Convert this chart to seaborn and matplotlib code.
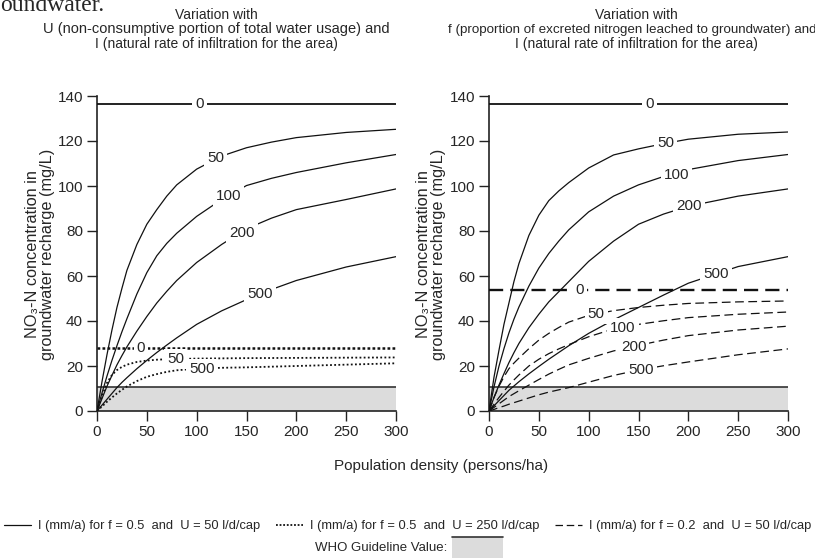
import matplotlib
matplotlib.use("Agg")
import matplotlib.pyplot as plt
from matplotlib.lines import Line2D
from matplotlib.patches import Rectangle
import pandas as pd
import seaborn as sns

# population density (persons/ha) at which the curves were read
density = [0, 5, 10, 15, 20, 25, 30, 40, 50, 60, 70, 80, 100, 125, 150, 175, 200, 250, 300]
density_flat = [0, 300]

# left panel: f = 0.5, U = 50 l/d/cap (solid)
left_solid_0 = [136.5, 136.5]
left_solid_50 = [0, 13, 25, 36, 46, 54.5, 62.5, 74, 83, 89.5, 95.5, 100.5, 107.5, 113.3, 117, 119.5, 121.5, 123.8, 125.2]
left_solid_100 = [0, 8, 15.5, 22.5, 29, 35.2, 41, 52, 61.5, 69, 74.5, 79, 86.5, 94, 100.2, 103.4, 106, 110.3, 114]
left_solid_200 = [0, 5.5, 11, 15.8, 20.5, 24.6, 28.5, 35.5, 42, 48, 53.2, 58, 66, 74, 81, 85.7, 89.5, 94, 98.7]
left_solid_500 = [0, 2.6, 5.2, 7.8, 10.4, 12.7, 14.8, 18.8, 22.5, 26, 29.3, 32.5, 38.5, 44.5, 49.5, 54, 58, 64, 68.6]

# left panel: f = 0.5, U = 250 l/d/cap (dotted)
left_dotted_0 = [28, 28]
left_dotted_50 = [0, 6.5, 12.5, 16, 18.2, 19.6, 20.6, 21.8, 22.4, 22.8, 23, 23.1, 23.3, 23.4, 23.5, 23.55, 23.6, 23.7, 23.8]
left_dotted_500 = [0, 2, 4.1, 6, 7.8, 9.4, 10.9, 13.3, 15.2, 16.4, 17.4, 18.1, 18.8, 19.2, 19.4, 19.7, 20, 20.6, 21.2]

# right panel: f = 0.5, U = 50 l/d/cap (solid)
right_solid_0 = [136.5, 136.5]
right_solid_50 = [0, 15, 27, 38.5, 48, 57.5, 65.5, 78, 87, 93.5, 97.8, 101.5, 108, 113.8, 116.5, 118.8, 120.8, 123, 124]
right_solid_100 = [0, 10.7, 19.9, 27.7, 34.7, 40.8, 46.2, 55.5, 63.5, 70, 75.5, 80.5, 88.5, 95.5, 100.5, 104.2, 107.3, 111.3, 114]
right_solid_200 = [0, 6, 11.5, 16.6, 21.5, 25.9, 30, 37, 43, 48.5, 53, 57.5, 66.5, 75.5, 83, 87.5, 91, 95.5, 98.7]
right_solid_500 = [0, 2.3, 4.6, 6.9, 9.2, 11.1, 13, 16.5, 19.8, 23, 26, 29, 34.5, 40.5, 46, 51.5, 56.8, 64.2, 68.6]

# right panel: f = 0.2, U = 50 l/d/cap (dashed)
right_dashed_0 = [53.7, 53.7]
right_dashed_50 = [0, 6, 11, 15.2, 18.8, 21.3, 23.5, 27.7, 31.5, 34.5, 37.1, 39.5, 42.5, 44.6, 46, 47, 47.8, 48.5, 48.9]
right_dashed_100 = [0, 3, 6, 8.8, 11.5, 13.8, 16, 20, 23, 25.5, 27.6, 29.5, 33, 36.5, 38.5, 40.1, 41.5, 43, 44]
right_dashed_200 = [0, 1.6, 3.2, 4.8, 6.4, 7.7, 9, 11.5, 14, 16.4, 18.5, 20.5, 23.4, 26.7, 29.2, 31.5, 33.5, 36, 37.7]
right_dashed_500 = [0, 0.7, 1.5, 2.2, 3, 3.7, 4.4, 5.8, 7.2, 8.4, 9.4, 10.4, 12.8, 15.8, 18.2, 20.1, 21.8, 25, 27.6]

who_value = 10.8

# where the I labels sit on each curve (density, concentration)
left_solid_labels = {"0": (103, 136.5), "50": (119, 112.3), "100": (132, 95.7), "200": (145.5, 79), "500": (163.5, 52)}
left_dotted_labels = {"0": (44, 28), "50": (79, 23), "500": (105, 18.7)}
right_solid_labels = {"0": (161, 136.5), "50": (177, 119), "100": (188, 105), "200": (200.5, 91), "500": (228, 61)}
right_dashed_labels = {"0": (91, 53.7), "50": (107.5, 43.1), "100": (134.5, 37), "200": (145, 28.5), "500": (152.5, 18.4)}

legend_texts = ["I (mm/a) for f = 0.5  and  U = 50 l/d/cap",
                "I (mm/a) for f = 0.5  and  U = 250 l/d/cap",
                "I (mm/a) for f = 0.2  and  U = 50 l/d/cap"]

sns.set_style("ticks")
plt.rcParams["font.family"] = ["Liberation Sans", "DejaVu Sans"]

fig = plt.figure(figsize=(8.15, 5.58), dpi=100)
ax_l = fig.add_axes([97 / 815, 1 - 411 / 558, 299 / 815, 315 / 558])
ax_r = fig.add_axes([489 / 815, 1 - 411 / 558, 299 / 815, 315 / 558])

series = [
    (ax_l, "solid", "0", density_flat, left_solid_0),
    (ax_l, "solid", "50", density, left_solid_50),
    (ax_l, "solid", "100", density, left_solid_100),
    (ax_l, "solid", "200", density, left_solid_200),
    (ax_l, "solid", "500", density, left_solid_500),
    (ax_l, "dotted", "0", density_flat, left_dotted_0),
    (ax_l, "dotted", "50", density, left_dotted_50),
    (ax_l, "dotted", "500", density, left_dotted_500),
    (ax_r, "solid", "0", density_flat, right_solid_0),
    (ax_r, "solid", "50", density, right_solid_50),
    (ax_r, "solid", "100", density, right_solid_100),
    (ax_r, "solid", "200", density, right_solid_200),
    (ax_r, "solid", "500", density, right_solid_500),
    (ax_r, "dashed", "0", density_flat, right_dashed_0),
    (ax_r, "dashed", "50", density, right_dashed_50),
    (ax_r, "dashed", "100", density, right_dashed_100),
    (ax_r, "dashed", "200", density, right_dashed_200),
    (ax_r, "dashed", "500", density, right_dashed_500),
]

line_styles = {
    ("solid", True): dict(linestyle="-", linewidth=1.3),
    ("solid", False): dict(linestyle="-", linewidth=0.9),
    ("dotted", True): dict(linestyle=(0, (1.1, 0.9)), linewidth=1.8),
    ("dotted", False): dict(linestyle=(0, (1.0, 1.3)), linewidth=1.3),
    ("dashed", True): dict(linestyle=(0, (6, 3)), linewidth=1.7),
    ("dashed", False): dict(linestyle=(0, (7, 3.6)), linewidth=0.9),
}

for ax in (ax_l, ax_r):
    ax.fill_between([0, 300], 0, who_value, color="#dcdcdc", lw=0, zorder=1)
    ax.plot([0, 300], [who_value, who_value], color="#333333", lw=1.2, zorder=2)

for ax, kind, infil, xs, ys in series:
    df = pd.DataFrame({"density": xs, "conc": ys})
    sns.lineplot(data=df, x="density", y="conc", ax=ax, color="#111111",
                 errorbar=None, zorder=3, **line_styles[(kind, infil == "0")])

fs = 11
for ax, labels in [(ax_l, left_solid_labels), (ax_l, left_dotted_labels),
                   (ax_r, right_solid_labels), (ax_r, right_dashed_labels)]:
    for name, (px, py) in labels.items():
        ax.text(px, py, name, ha="center", va="center", fontsize=fs, zorder=5,
                bbox=dict(boxstyle="square,pad=0.2", fc="white", ec="none"))

for ax in (ax_l, ax_r):
    ax.set_xlim(0, 300)
    ax.set_ylim(0, 140)
    ax.set_xticks(range(0, 301, 50))
    ax.set_yticks(range(0, 141, 20))
    ax.set_xlabel("")
    ax.set_ylabel("")
    ax.tick_params(labelsize=fs, length=7, width=1, color="#222222", pad=3)
    for side in ("left", "bottom"):
        ax.spines[side].set_linewidth(1.2)
        ax.spines[side].set_color("#222222")
    ax.set_facecolor("white")
sns.despine(fig=fig)

ylab = "NO\u2083-N concentration in\ngroundwater recharge (mg/L)"
fig.text(40 / 815, 1 - 254 / 558, ylab, rotation=90, ha="center", va="center",
         fontsize=11.7, linespacing=0.95)
fig.text(431 / 815, 1 - 254 / 558, ylab, rotation=90, ha="center", va="center",
         fontsize=11.7, linespacing=0.95)

left_title = ["Variation with",
              "U (non-consumptive portion of total water usage) and",
              "I (natural rate of infiltration for the area)"]
right_title = ["Variation with",
               "f (proportion of excreted nitrogen leached to groundwater) and",
               "I (natural rate of infiltration for the area)"]
for centers, lines, sizes in [((216, 216, 216), left_title, [10, 10.5, 10]),
                              ((636, 632, 636), right_title, [10, 9.6, 10])]:
    for cx, yy, line, size in zip(centers, [15, 29.5, 44], lines, sizes):
        fig.text(cx / 815, 1 - yy / 558, line, ha="center", va="center", fontsize=size)

fig.text(0, 1 - 11 / 558, "oundwater.", family="Liberation Serif", fontsize=17,
         ha="left", va="baseline")

fig.text(441 / 815, 1 - 466 / 558, "Population density (persons/ha)", ha="center",
         va="center", fontsize=fs)

handles = [Line2D([], [], color="#111111", linewidth=0.9, linestyle="-"),
           Line2D([], [], color="#111111", linewidth=1.3, linestyle=(0, (1.0, 1.0))),
           Line2D([], [], color="#111111", linewidth=0.9, linestyle=(0, (6, 3)))]
fig.legend(handles, legend_texts, loc="center", bbox_to_anchor=(0.5, 1 - 526 / 558),
           ncol=3, frameon=False, fontsize=9.3, handlelength=2.1, handletextpad=0.55,
           columnspacing=1.2, borderaxespad=0, borderpad=0)

fig.text(447 / 815, 1 - 548 / 558, "WHO Guideline Value:", ha="right", va="center",
         fontsize=9.5)
fig.add_artist(Rectangle((452 / 815, 0), 51 / 815, 21 / 558, transform=fig.transFigure,
                         fc="#dcdcdc", ec="none"))
fig.add_artist(Line2D([452 / 815, 503 / 815], [21 / 558, 21 / 558],
                      transform=fig.transFigure, color="#333333", lw=1.2))

fig.savefig("out.png", dpi=100)
